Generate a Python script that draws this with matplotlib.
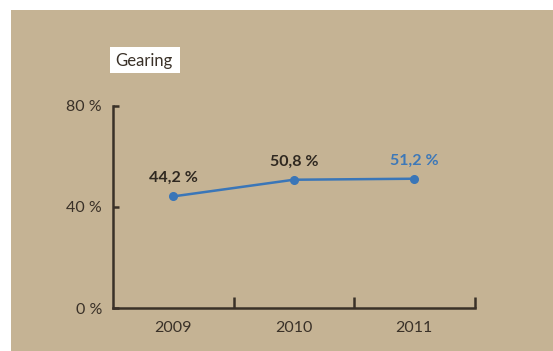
import matplotlib
matplotlib.use("Agg")
import matplotlib.pyplot as plt
from matplotlib.patches import Rectangle

years = ["2009", "2010", "2011"]
gearing = [44.2, 50.8, 51.2]
value_labels = ["44,2 %", "50,8 %", "51,2 %"]
label_colors = ["#2f2820", "#2f2820", "#3d78b8"]
ytick_values = [0, 40, 80]
ytick_labels = ["0 %", "40 %", "80 %"]
title = "Gearing"

W, H = 553, 351
bg = "#c5b394"
dark = "#3a3128"
blue = "#3a76b8"

plt.rcParams["font.family"] = ["Lato", "DejaVu Sans"]

fig = plt.figure(figsize=(W / 100, H / 100), dpi=100, facecolor="white")
fig.patches.append(Rectangle((11 / W, 0), 1 - 11 / W, 1 - 10 / H,
                             transform=fig.transFigure, facecolor=bg,
                             edgecolor="none", zorder=-10))

ax = fig.add_axes([113 / W, 1 - 308 / H, (474.5 - 113) / W, (308 - 106) / H])
ax.set_facecolor("none")

xs = [0.5 + i for i in range(len(years))]
ax.plot(xs, gearing, color=blue, lw=1.8, marker="o", ms=5.5, zorder=3,
        clip_on=False)

for x, v, lab, c in zip(xs, gearing, value_labels, label_colors):
    ax.annotate(lab, (x, v), xytext=(0, 8), textcoords="offset points",
                ha="center", va="bottom", fontsize=11.5, fontweight="bold",
                color=c)

ax.set_xlim(0, len(years))
ax.set_ylim(0, 80)

for s in ["top", "right"]:
    ax.spines[s].set_visible(False)
for s in ["left", "bottom"]:
    ax.spines[s].set_color(dark)
    ax.spines[s].set_linewidth(1.8)

ax.set_yticks(ytick_values)
ax.set_yticklabels(ytick_labels)
ax.tick_params(axis="y", direction="in", length=4, width=1.8, color=dark,
               labelcolor=dark, labelsize=11.5, pad=8)

ax.set_xticks(range(1, len(years) + 1))
ax.set_xticklabels([])
ax.tick_params(axis="x", direction="in", length=8, width=1.8, color=dark)
ax.set_xticks(xs, minor=True)
ax.set_xticklabels(years, minor=True)
ax.tick_params(axis="x", which="minor", length=0, labelcolor=dark,
               labelsize=11.5, pad=9)

fig.patches.append(Rectangle((110 / W, 1 - 73 / H), 70 / W, 26 / H,
                             transform=fig.transFigure, facecolor="white",
                             edgecolor="none", zorder=-5))
fig.text(144 / W, 1 - 61 / H, title, ha="center", va="center", fontsize=12,
         color=dark)

fig.savefig("out.png", dpi=100, facecolor=fig.get_facecolor())
